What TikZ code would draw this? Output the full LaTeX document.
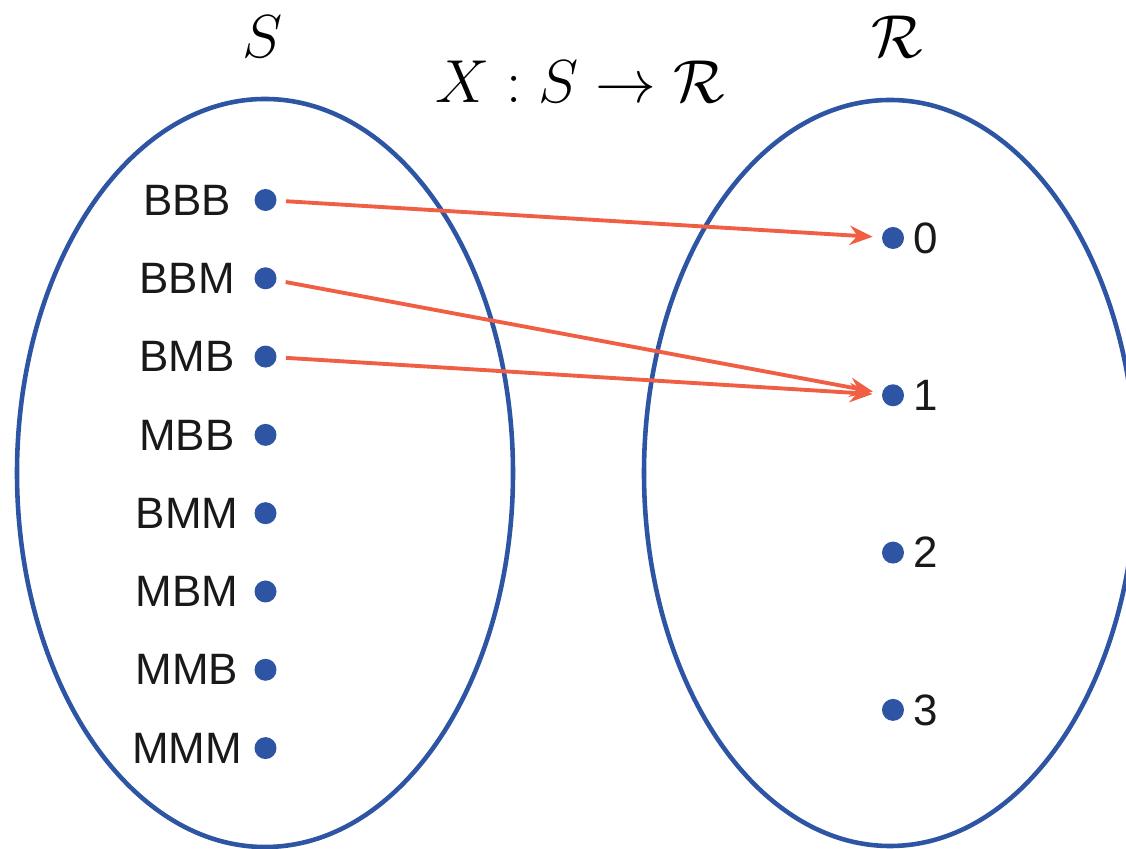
\documentclass[tikz,border=0pt]{standalone}
\usepackage{fontspec}
\newfontfamily\lblfont{Liberation Sans}
\usetikzlibrary{arrows.meta,positioning,calc}
\definecolor{SET-BLUE}{RGB}{46, 84, 164}
\definecolor{MAP-RED}{RGB}{240, 94, 68}

\tikzset{
  pt/.style={circle, fill=SET-BLUE, inner sep=0pt, minimum size=0.22cm},
  outcome/.style={font=\lblfont\fontsize{12.5}{14}\selectfont, text=black!90, inner sep=1pt},
  setname/.style={font=\LARGE},
  mapsto/.style={-{Stealth[length=6.5pt,width=5.5pt,inset=2.2pt]}, MAP-RED, line width=1.1pt, shorten <=2.5pt, shorten >=2.5pt},
}

\begin{document}
\begin{tikzpicture}
  \useasboundingbox (0,0) rectangle (11.26,8.49);
  \clip (0,0) rectangle (11.26,8.49);

  % Sample space S (left ellipse)
  \draw[SET-BLUE, line width=1.3pt] (2.65,3.76) ellipse (2.48 and 3.74);
  \node[setname] (lS) at (2.63,8.12) {$S$};

  % Real numbers R (right ellipse)
  \draw[SET-BLUE, line width=1.3pt] (8.90,3.76) ellipse (2.46 and 3.73);
  \node[setname] (lR) at (8.97,8.12) {$\mathcal{R}$};

  % The random variable
  \node[setname] (map) at (5.80,7.67) {$X : S \to \mathcal{R}$};

  % Outcomes
  \foreach \name/\txt [count=\i from 0] in {bbb/BBB,bbm/BBM,bmb/BMB,mbb/MBB,bmm/BMM,mbm/MBM,mmb/MMB,mmm/MMM} {
    \node[pt] (\name) at (2.655,{6.49-0.783*\i}) {};
    \node[outcome] (l\name) at ([xshift=-0.785cm]\name) {\txt};
  }

  % Values
  \foreach \v in {0,...,3} {
    \node[pt] (r\v) at (8.93,{6.11-1.573*\v}) {};
    \node[outcome, right=0.05cm of r\v] (lr\v) {\v};
  }

  % Mapping
  \draw[mapsto] (bbb) -- (r0);
  \draw[mapsto] (bbm) -- (r1);
  \draw[mapsto] (bmb) -- (r1);
\end{tikzpicture}
\end{document}
